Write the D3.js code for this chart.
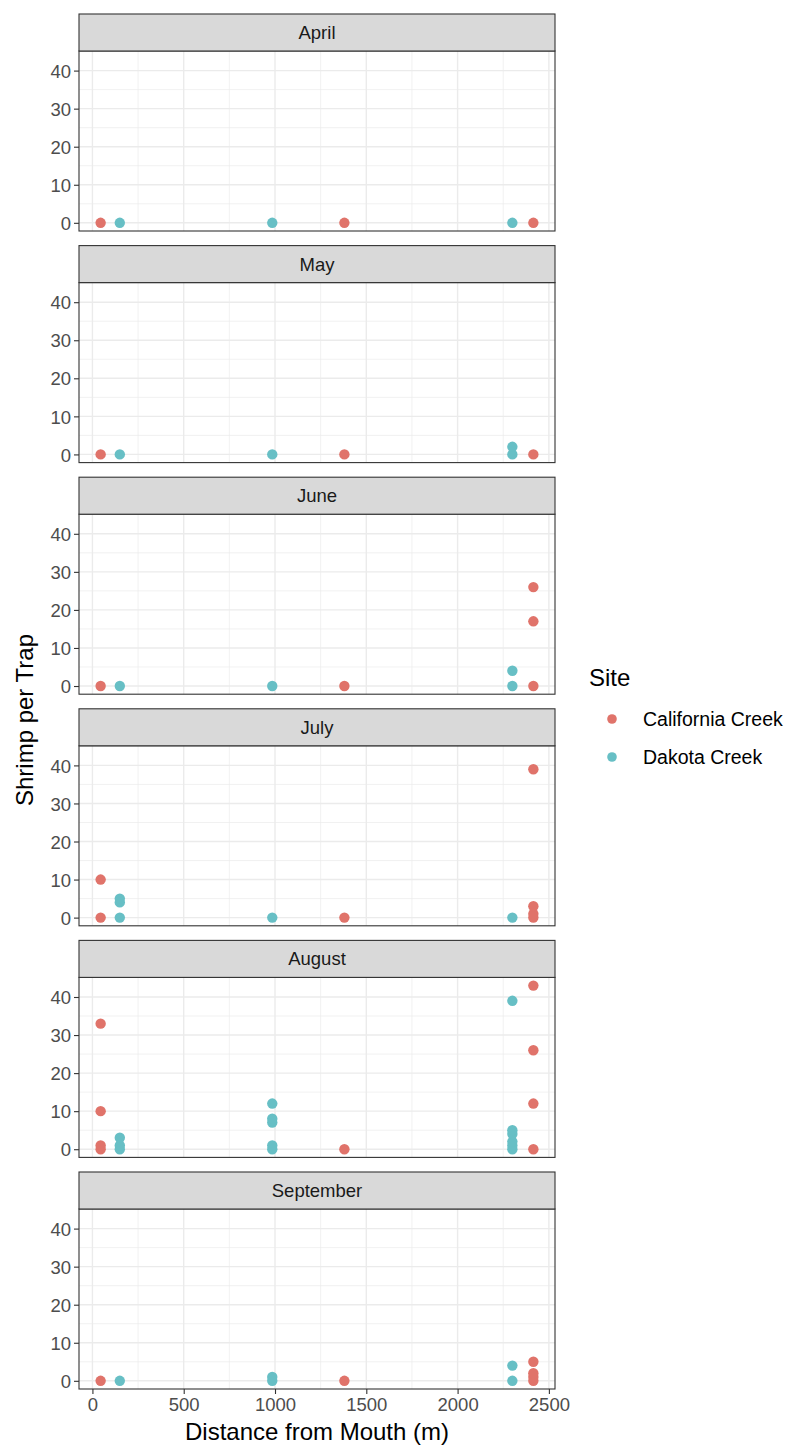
<!DOCTYPE html>
<html><head><meta charset="utf-8">
<script src="https://cdn.jsdelivr.net/npm/d3@7"></script>
<style>body{margin:0;background:#fff}</style>
</head><body>
<svg id="c" width="791" height="1447"></svg>
<script>
const months = ["April","May","June","July","August","September"];
const sites = ["California Creek","Dakota Creek"];
const siteColors = ["#E0736A","#67BFC5"];
const xTicks = [0,500,1000,1500,2000,2500];
const yTicks = [0,10,20,30,40];
// each row: [site, distance from mouth (m), shrimp per trap]
const aprilData = [["California Creek",45,0],["California Creek",1380,0],["California Creek",2415,0],
  ["Dakota Creek",150,0],["Dakota Creek",985,0],["Dakota Creek",2300,0]];
const mayData = [["California Creek",45,0],["California Creek",1380,0],["California Creek",2415,0],
  ["Dakota Creek",150,0],["Dakota Creek",985,0],["Dakota Creek",2300,0],["Dakota Creek",2300,2]];
const juneData = [["California Creek",45,0],["California Creek",1380,0],["California Creek",2415,0],["California Creek",2415,17],["California Creek",2415,26],
  ["Dakota Creek",150,0],["Dakota Creek",985,0],["Dakota Creek",2300,0],["Dakota Creek",2300,4]];
const julyData = [["California Creek",45,0],["California Creek",45,10],["California Creek",1380,0],["California Creek",2415,0],["California Creek",2415,1],["California Creek",2415,3],["California Creek",2415,39],
  ["Dakota Creek",150,0],["Dakota Creek",150,4],["Dakota Creek",150,5],["Dakota Creek",985,0],["Dakota Creek",2300,0]];
const augustData = [["California Creek",45,0],["California Creek",45,1],["California Creek",45,10],["California Creek",45,33],["California Creek",1380,0],
  ["California Creek",2415,0],["California Creek",2415,12],["California Creek",2415,26],["California Creek",2415,43],
  ["Dakota Creek",150,0],["Dakota Creek",150,1],["Dakota Creek",150,3],
  ["Dakota Creek",985,0],["Dakota Creek",985,1],["Dakota Creek",985,7],["Dakota Creek",985,8],["Dakota Creek",985,12],
  ["Dakota Creek",2300,0],["Dakota Creek",2300,1],["Dakota Creek",2300,2],["Dakota Creek",2300,4],["Dakota Creek",2300,5],["Dakota Creek",2300,39]];
const septemberData = [["California Creek",45,0],["California Creek",1380,0],["California Creek",2415,0],["California Creek",2415,1],["California Creek",2415,2],["California Creek",2415,5],
  ["Dakota Creek",150,0],["Dakota Creek",985,0],["Dakota Creek",985,1],["Dakota Creek",2300,0],["Dakota Creek",2300,4]];
const panelData = [aprilData,mayData,juneData,julyData,augustData,septemberData];

const svg = d3.select("#c");
const font = "Helvetica, 'Liberation Sans', Arial, sans-serif";
const L = 79, R = 555, top0 = 14, pitch = 231.6, stripH = 37, plotH = 180;

const all = panelData.flat();
const xExt = d3.extent(all, d=>d[1]);
const xPad = (xExt[1]-xExt[0])*0.05;
const x = d3.scaleLinear().domain([xExt[0]-xPad, xExt[1]+xPad]).range([L, R]);
const yMax = d3.max(all, d=>d[2]);
const yPad = yMax*0.05;
const color = d3.scaleOrdinal().domain(sites).range(siteColors);

months.forEach((m,i)=>{
  const t = top0 + i*pitch;
  const pt = t + stripH;
  const y = d3.scaleLinear().domain([-yPad, yMax+yPad]).range([pt+plotH, pt]);
  const g = svg.append("g");
  g.append("rect").attr("x",L).attr("y",pt).attr("width",R-L).attr("height",plotH).attr("fill","#fff");
  const xMinor = d3.range(250, 2500, 500);
  const yMinor = [5,15,25,35];
  g.selectAll(".xmn").data(xMinor).join("line").attr("x1",d=>x(d)).attr("x2",d=>x(d)).attr("y1",pt).attr("y2",pt+plotH).attr("stroke","#ebebeb").attr("stroke-width",0.7);
  g.selectAll(".ymn").data(yMinor).join("line").attr("x1",L).attr("x2",R).attr("y1",d=>y(d)).attr("y2",d=>y(d)).attr("stroke","#ebebeb").attr("stroke-width",0.7);
  g.selectAll(".xmj").data(xTicks).join("line").attr("x1",d=>x(d)).attr("x2",d=>x(d)).attr("y1",pt).attr("y2",pt+plotH).attr("stroke","#ebebeb").attr("stroke-width",1.4);
  g.selectAll(".ymj").data(yTicks).join("line").attr("x1",L).attr("x2",R).attr("y1",d=>y(d)).attr("y2",d=>y(d)).attr("stroke","#ebebeb").attr("stroke-width",1.4);
  g.selectAll("circle").data(panelData[i]).join("circle")
    .attr("cx",d=>x(d[1])).attr("cy",d=>y(d[2])).attr("r",5.2).attr("fill",d=>color(d[0]));
  g.append("rect").attr("x",L).attr("y",pt).attr("width",R-L).attr("height",plotH).attr("fill","none").attr("stroke","#333").attr("stroke-width",1.1);
  g.append("rect").attr("x",L).attr("y",t).attr("width",R-L).attr("height",stripH).attr("fill","#d9d9d9").attr("stroke","#333").attr("stroke-width",1.1);
  g.append("text").attr("x",(L+R)/2).attr("y",t+stripH/2+6.5).attr("text-anchor","middle")
    .attr("font-family",font).attr("font-size",18.5).attr("fill","#1a1a1a").text(m);
  const ya = d3.axisLeft(y).tickValues(yTicks).tickSize(5).tickPadding(3).tickFormat(d3.format("d"));
  const yg = g.append("g").attr("transform",`translate(${L},0)`).call(ya);
  yg.select(".domain").remove();
  yg.selectAll(".tick line").attr("stroke","#333").attr("stroke-width",1.1);
  yg.selectAll(".tick text").attr("font-family",font).attr("font-size",18.5).attr("fill","#4d4d4d").attr("dy","0.36em");
  if(i===months.length-1){
    const xa = d3.axisBottom(x).tickValues(xTicks).tickSize(5).tickPadding(3).tickFormat(d3.format("d"));
    const xg = g.append("g").attr("transform",`translate(0,${pt+plotH})`).call(xa);
    xg.select(".domain").remove();
    xg.selectAll(".tick line").attr("stroke","#333").attr("stroke-width",1.1);
    xg.selectAll(".tick text").attr("font-family",font).attr("font-size",18.5).attr("fill","#4d4d4d").attr("dy","0.75em");
  }
});

svg.append("text").attr("x",(L+R)/2).attr("y",1440).attr("text-anchor","middle")
  .attr("font-family",font).attr("font-size",24).attr("fill","#000").text("Distance from Mouth (m)");
svg.append("text").attr("transform","translate(33,720) rotate(-90)").attr("text-anchor","middle")
  .attr("font-family",font).attr("font-size",24).attr("fill","#000").text("Shrimp per Trap");

const lg = svg.append("g");
lg.append("text").attr("x",589).attr("y",686).attr("font-family",font).attr("font-size",24).attr("fill","#000").text("Site");
sites.forEach((s,j)=>{
  const cy = 719 + j*38;
  lg.append("circle").attr("cx",612).attr("cy",cy).attr("r",4.8).attr("fill",color(s));
  lg.append("text").attr("x",643).attr("y",cy+7).attr("font-family",font).attr("font-size",19.5).attr("fill","#000").text(s);
});
</script>
</body></html>
